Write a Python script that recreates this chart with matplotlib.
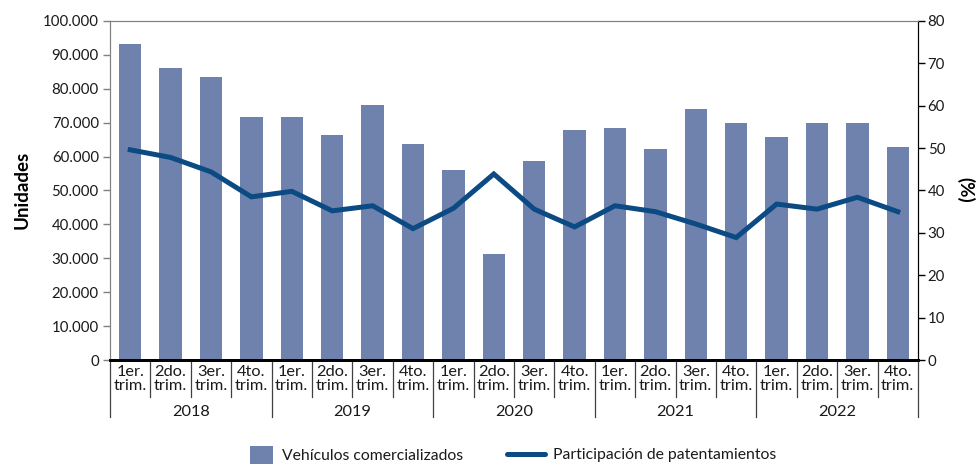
import numpy as np
import matplotlib
matplotlib.use("Agg")
import matplotlib.pyplot as plt
import matplotlib.transforms as mtransforms
from matplotlib.patches import Patch
from matplotlib.lines import Line2D

plt.rcParams["font.family"] = ["Lato", "DejaVu Sans"]

# --- data ---
YEARS = ["2018", "2019", "2020", "2021", "2022"]
QUARTERS = ["1er.\ntrim.", "2do.\ntrim.", "3er.\ntrim.", "4to.\ntrim."]
vehiculos = [93300, 86100, 83500, 71700,
             71700, 66400, 75200, 63700,
             56000, 31300, 58800, 67900,
             68500, 62300, 73900, 70000,
             65900, 70000, 70000, 62900]
participacion = [49.6, 47.8, 44.4, 38.5,
                 39.8, 35.2, 36.4, 31.0,
                 35.8, 43.9, 35.6, 31.4,
                 36.4, 35.0, 32.1, 28.9,
                 36.8, 35.6, 38.4, 35.0]

BAR_COLOR = "#6F82AE"
LINE_COLOR = "#0B4A82"
TXT = "#1a1a1a"
FS = 10.8
FS_CAT = 11.8
FS_LEG = 11.3

labels = [q for _ in YEARS for q in QUARTERS]
x = np.arange(len(labels))

fig = plt.figure(figsize=(9.77, 4.67), dpi=100)
ax = fig.add_axes([110 / 977, 107 / 467, 808 / 977, 339 / 467])
ax2 = ax.twinx()

ax.bar(x, vehiculos, width=0.55, color=BAR_COLOR, zorder=2)
ax2.plot(x, participacion, color=LINE_COLOR, lw=3.6, solid_joinstyle="miter", zorder=3)

ax.set_xlim(-0.5, len(labels) - 0.5)
ax.set_ylim(0, 100000)
ax.set_yticks(np.arange(0, 100001, 10000))
ax.set_yticklabels([f"{v:,}".replace(",", ".") for v in range(0, 100001, 10000)])
ax2.set_ylim(0, 80)
ax2.set_yticks(np.arange(0, 81, 10))

ax.set_xticks([])
for a in (ax, ax2):
    a.spines["top"].set_color("#808080")
    a.spines["left"].set_color("#808080")
    a.spines["right"].set_color("black")
    a.spines["bottom"].set_color("black")
    a.spines["bottom"].set_linewidth(2.0)
ax.tick_params(axis="y", direction="out", length=5, width=1, color="#808080",
               labelsize=FS, labelcolor=TXT, pad=3)
ax2.tick_params(axis="y", direction="out", length=5, width=1, color="black",
                labelsize=FS, labelcolor=TXT, pad=2)

fig.text(22 / 977, 1 - 190 / 467, "Unidades", fontsize=13.5, fontweight="bold",
         color="black", rotation=90, ha="center", va="center")
fig.text(965 / 977, 1 - 190 / 467, "(%)", fontsize=13.5, fontweight="bold",
         color="black", rotation=270, ha="center", va="center")

# multi-level category axis
trans = mtransforms.blended_transform_factory(ax.transData, ax.transAxes)
for i, lab in enumerate(labels):
    ax.text(x[i], -0.015, lab, transform=trans, ha="center", va="top",
            fontsize=FS_CAT, color=TXT, linespacing=1.0)
for b in np.arange(-0.5, len(labels), 1.0):
    is_year = (b + 0.5) % 4 == 0
    bottom = -0.168 if is_year else -0.11
    ax.plot([b, b], [0, bottom], transform=trans, color="#404040", lw=0.9,
            clip_on=False, zorder=1)
for j, yr in enumerate(YEARS):
    ax.text(4 * j + 1.5, -0.152, yr, transform=trans, ha="center", va="center",
            fontsize=FS_CAT, color=TXT)

# legend
fig.legend(handles=[Patch(facecolor=BAR_COLOR, label="Vehículos comercializados")],
           loc="center left", bbox_to_anchor=(236 / 977, 1 - 455 / 467), frameon=False,
           handlelength=1.45, handleheight=1.45, handletextpad=0.6, fontsize=FS_LEG,
           labelcolor=TXT)
fig.legend(handles=[Line2D([], [], color=LINE_COLOR, lw=3.6, solid_capstyle="round",
                           label="Participación de patentamientos")],
           loc="center left", bbox_to_anchor=(493 / 977, 1 - 455 / 467), frameon=False,
           handlelength=2.4, handletextpad=0.5, fontsize=FS_LEG, labelcolor=TXT)

fig.savefig("out.png", dpi=100)
